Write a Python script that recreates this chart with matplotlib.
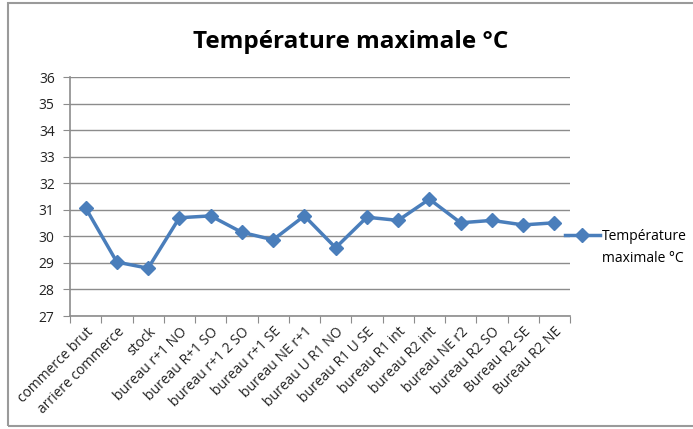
import matplotlib.pyplot as plt
from matplotlib.patches import Rectangle

categories = ["commerce brut", "arriere commerce", "stock", "bureau r+1 NO",
              "bureau R+1 SO", "bureau r+1 2 SO", "bureau r+1 SE", "bureau NE r+1",
              "bureau U R1 NO", "bureau R1 U SE", "bureau R1 int", "bureau R2 int",
              "bureau NE r2", "bureau R2 SO", "Bureau R2 SE", "Bureau R2 NE"]
temps = [31.07, 29.03, 28.8, 30.7, 30.77, 30.15, 29.87, 30.77,
         29.57, 30.72, 30.6, 31.4, 30.51, 30.6, 30.43, 30.51]
yticks = [27, 28, 29, 30, 31, 32, 33, 34, 35, 36]

plt.rcParams['font.family'] = ['Open Sans', 'DejaVu Sans']

fig = plt.figure(figsize=(6.93, 4.29), dpi=100)
fig.patches.append(Rectangle((8 / 693, 3 / 429), 1.0, 423 / 429, transform=fig.transFigure,
                             fill=False, edgecolor="#9a9a9a", linewidth=1.5))

ax = fig.add_axes([70 / 693, 1 - 316 / 429, 500 / 693, 239 / 429])
x = list(range(len(categories)))
ax.plot(x, temps, color="#4A7EBB", linewidth=2.5, marker="D", markersize=7,
        label="Température")

ax.set_xlim(-0.5, len(categories) - 0.5)
ax.set_ylim(27, 36)
ax.set_yticks(yticks)
ax.set_yticklabels([str(t) for t in yticks], fontsize=10, color="#222222")
ax.yaxis.grid(True, color="#8c8c8c", linewidth=1)
ax.set_axisbelow(True)

# category ticks between labels, labels centred on points
ax.set_xticks([i - 0.5 for i in range(len(categories) + 1)])
ax.set_xticklabels([])
ax.set_xticks(x, minor=True)
ax.set_xticklabels(categories, minor=True, rotation=45, ha="right",
                   rotation_mode="anchor", fontsize=10, color="#222222")
ax.tick_params(axis="x", which="minor", length=0, pad=6)
ax.tick_params(axis="x", which="major", length=5, color="#8c8c8c")
ax.tick_params(axis="y", length=5, color="#8c8c8c", pad=6)

for s in ["top", "right"]:
    ax.spines[s].set_visible(False)
for s in ["left", "bottom"]:
    ax.spines[s].set_color("#8c8c8c")
    ax.spines[s].set_linewidth(1.2)

fig.text(351 / 693, 1 - 42 / 429, "Température maximale °C", ha="center", va="center",
         fontsize=17.5, fontweight="bold")

# legend: marker lines up with the first line of the label, as in Excel
leg = ax.legend(loc="center left", bbox_to_anchor=(0.99, 1 / 3), frameon=False, fontsize=10,
                handlelength=2.5, handletextpad=0.15, borderaxespad=0, borderpad=0)
ax.annotate("maximale °C", xy=(0, 0), xycoords=leg.get_texts()[0],
            xytext=(0, -5), textcoords="offset points", ha="left", va="top", fontsize=10,
            zorder=10, annotation_clip=False)

fig.savefig("out.png", dpi=100)
